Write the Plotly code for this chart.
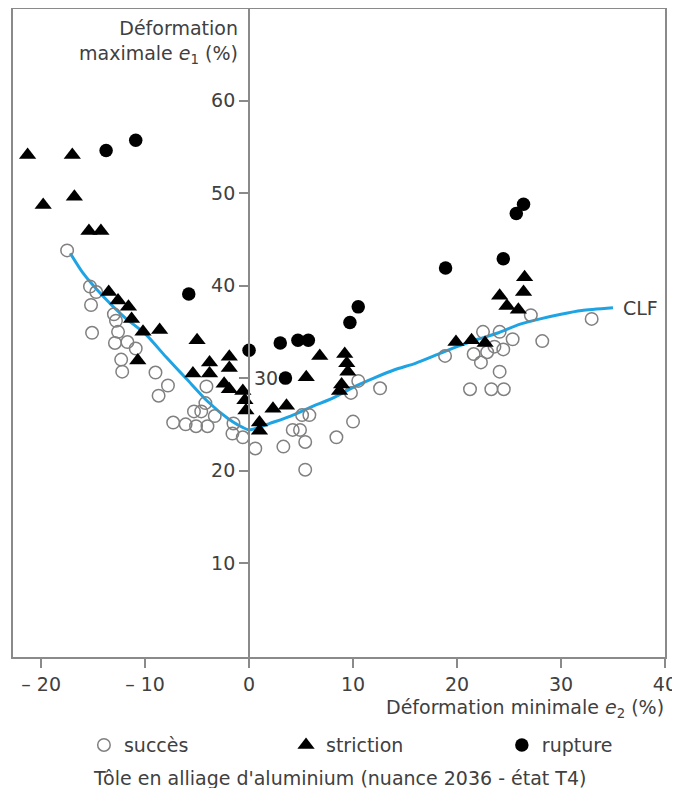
import plotly.graph_objects as go

# ---- data ----
succes_x = [-17.5, -15.3, -14.7, -15.2, -15.1, -13.0, -12.8, -12.6, -12.9, -12.3, -12.2, -11.7, -10.9,
            -9.0, -7.8, -8.7, -7.3, -6.1, -5.1, -4.0, -5.3, -4.6, -4.2, -4.1, -3.3, -1.5, -1.6, -0.6,
            0.6, 3.3, 4.2, 4.9, 5.1, 5.8, 5.4, 5.4, 8.4, 10.0, 9.8, 10.5, 12.6,
            18.85, 21.25, 21.6, 22.3, 22.5, 22.9, 23.3, 23.6, 24.1, 24.45, 24.1, 24.5, 25.35, 27.1, 28.2, 32.95]
succes_y = [43.8, 39.9, 39.3, 37.9, 34.9, 36.9, 36.2, 35.0, 33.8, 32.0, 30.7, 33.9, 33.2,
            30.6, 29.2, 28.1, 25.2, 25.0, 24.8, 24.8, 26.4, 26.4, 27.3, 29.1, 25.9, 25.1, 24.0, 23.6,
            22.4, 22.6, 24.4, 24.4, 26.0, 26.0, 23.1, 20.1, 23.6, 25.3, 28.4, 29.7, 28.9,
            32.4, 28.8, 32.6, 31.7, 35.0, 32.8, 28.8, 33.4, 35.0, 33.1, 30.7, 28.8, 34.2, 36.8, 34.0, 36.4]

striction_x = [-21.3, -17.0, -19.8, -16.8, -15.4, -14.25,
               -13.5, -12.6, -11.6, -11.3, -10.2, -8.6, -10.7,
               -5.0, -5.4, -3.8, -3.8, -1.9, -1.9, -2.4, -1.9,
               -0.6, -0.4, -0.3, 1.0, 1.0, 2.3, 3.6, 5.5, 6.8,
               9.2, 9.4, 9.5, 8.7, 8.9,
               19.9, 21.4, 22.7, 24.1, 24.8, 25.9, 26.4, 26.5]
striction_y = [54.1, 54.1, 48.7, 49.6, 45.9, 45.9,
               39.3, 38.4, 37.7, 36.4, 35.0, 35.2, 31.9,
               34.1, 30.5, 31.7, 30.5, 32.3, 31.1, 29.4, 28.8,
               28.6, 27.6, 26.5, 25.2, 24.3, 26.7, 27.0, 30.1, 32.4,
               32.6, 31.6, 30.7, 28.6, 29.3,
               33.9, 34.1, 33.8, 38.9, 37.8, 37.4, 39.3, 40.9]

rupture_x = [-13.75, -10.9, -5.8, 0.0, 3.0, 3.5, 4.7, 5.7, 9.7, 10.5, 18.9, 24.45, 25.7, 26.4]
rupture_y = [54.6, 55.7, 39.1, 33.0, 33.8, 30.0, 34.1, 34.1, 36.0, 37.7, 41.9, 42.9, 47.8, 48.8]

clf_x = [-17.2, -16, -14, -12, -10, -8, -6, -4, -2, -1, 0, 1, 2, 4, 6, 8, 10, 12, 14, 16, 18, 20,
         22, 24, 26, 28, 30, 32, 35]
clf_y = [43.5, 41.4, 38.8, 36.6, 34.8, 32.3, 29.9, 27.5, 25.6, 24.9, 24.4, 24.7, 25.1, 25.9, 26.9,
         27.8, 29.0, 30.0, 30.9, 31.6, 32.5, 33.4, 34.2, 34.9, 35.8, 36.4, 36.9, 37.3, 37.6]

x_tickvals = [-20, -10, 0, 10, 20, 30, 40]
x_ticktext = ["– 20", "– 10", "0", "10", "20", "30", "40"]
y_tickvals = [10, 20, 30, 40, 50, 60]
y_ticktext = ["10", "20", "", "40", "50", "60"]

FONT = "DejaVu Sans"
TXT = "#404040"
GRAY = "#8a8a8a"
FS = 19

fig = go.Figure()
fig.add_trace(go.Scatter(x=clf_x, y=clf_y, mode="lines", showlegend=False, hoverinfo="skip",
                         line=dict(color="#1ea4e4", width=3, shape="spline", smoothing=0.6)))
fig.add_trace(go.Scatter(x=succes_x, y=succes_y, mode="markers", name="succès", legend="legend",
                         marker=dict(symbol="circle-open", size=12.5, color="#808080",
                                     line=dict(width=1.5))))
fig.add_trace(go.Scatter(x=striction_x, y=striction_y, mode="markers", name="striction",
                         legend="legend2",
                         marker=dict(symbol="triangle-up", size=15, color="black")))
fig.add_trace(go.Scatter(x=rupture_x, y=rupture_y, mode="markers", name="rupture",
                         legend="legend3",
                         marker=dict(symbol="circle", size=13.5, color="black")))

def leg(x):
    return dict(orientation="h", x=x, xanchor="left", y=-0.134, yanchor="middle",
                font=dict(size=FS, color=TXT), bgcolor="rgba(0,0,0,0)")

xmin, xmax = -22.8, 40.1
fig.update_layout(
    width=672, height=780,
    margin=dict(l=4, r=14, t=0, b=130),
    paper_bgcolor="white", plot_bgcolor="white",
    font=dict(family=FONT, size=FS, color=TXT),
    xaxis=dict(range=[xmin, xmax], tickvals=x_tickvals, ticktext=x_ticktext,
               showgrid=False, zeroline=False, showline=False,
               ticks="outside", ticklen=9, tickwidth=2, tickcolor=GRAY,
               ticklabeloverflow="allow",
               tickfont=dict(size=FS, color=TXT)),
    yaxis=dict(range=[-0.25, 70.0], tickvals=y_tickvals, ticktext=y_ticktext,
               anchor="free", position=(0 - xmin) / (xmax - xmin),
               showgrid=False, zeroline=False, showline=True, linecolor=GRAY, linewidth=2,
               ticks="outside", ticklen=9, tickwidth=2, tickcolor=GRAY,
               tickfont=dict(size=FS, color=TXT)),
    legend=leg(0.110),
    legend2=leg(0.419),
    legend3=leg(0.749),
    shapes=[dict(type="rect", xref="paper", yref="paper", x0=0, x1=1, y0=0, y1=1,
                 line=dict(color=GRAY, width=2), layer="above")],
    annotations=[
        dict(x=0, y=30, xref="x", yref="y", text="30", showarrow=False,
             xanchor="left", yanchor="middle", xshift=3, font=dict(size=FS, color=TXT)),
        dict(x=35, y=37.6, xref="x", yref="y", text="CLF", showarrow=False,
             xanchor="left", yanchor="middle", xshift=8, font=dict(size=FS, color=TXT)),
        dict(x=1, y=-0.077, xref="paper", yref="paper",
             text="Déformation minimale <i>e</i><sub>2</sub> (%)", showarrow=False,
             xanchor="right", yanchor="middle", font=dict(size=FS, color=TXT)),
        dict(x=0.348, y=0.99, xref="paper", yref="paper",
             text="Déformation<br>maximale <i>e</i><sub>1</sub> (%)", showarrow=False,
             xanchor="right", yanchor="top", align="right", font=dict(size=FS, color=TXT)),
        dict(x=0.5, y=-0.185, xref="paper", yref="paper",
             text="Tôle en alliage d'aluminium (nuance 2036 - état T4)", showarrow=False,
             xanchor="center", yanchor="middle", font=dict(size=FS, color=TXT)),
    ],
)

fig.write_html("out.html")
